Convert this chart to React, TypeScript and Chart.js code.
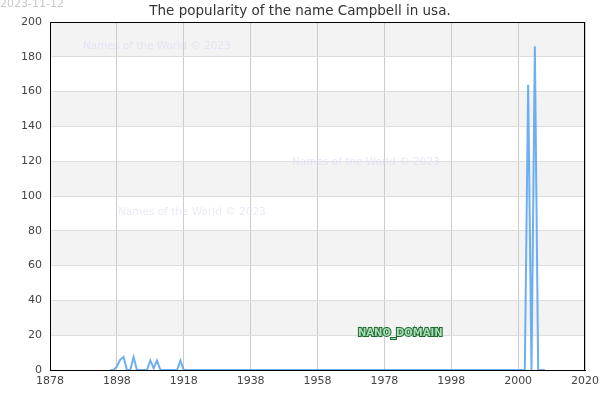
import React, { useEffect, useRef } from "react";
import { Chart, registerables, LinearScale } from "chart.js";

// ---- data ----
const years: number[] = [1896, 1897, 1898, 1899, 1900, 1901, 1902, 1903, 1904, 1907, 1908, 1909, 1910, 1911, 1916, 1917, 1918, 1998, 2000, 2002, 2003, 2004, 2005, 2006, 2008];
const counts: number[] = [0, 0, 2, 6, 7.5, 0, 0, 7.5, 0, 0, 5.5, 1, 5.5, 0, 0, 5.5, 0, 0, 0, 0, 164, 0, 186, 0, 0];
const xTickValues: number[] = [1878, 1898, 1918, 1938, 1958, 1978, 1998, 2000, 2020];
const xTickLabels: string[] = ["1878", "1898", "1918", "1938", "1958", "1978", "1998", "2000", "2020"];
const yTickValues: number[] = [0, 20, 40, 60, 80, 100, 120, 140, 160, 180, 200];

const titleText = "The popularity of the name Campbell in usa.";
const dateText = "2023-11-12";
const watermarkText = "Names of the World © 2023";
const badgeText = "NANO_DOMAIN";

// Axis whose ticks are evenly spaced regardless of their values
class EvenTickScale extends (LinearScale as any) {
  static id = "eventick";
  static defaults = {};
  buildTicks() {
    return xTickValues.map((value) => ({ value }));
  }
  toIndex(v: number): number {
    const t = xTickValues;
    if (v <= t[0]) return 0;
    for (let i = 0; i < t.length - 1; i++) {
      if (v >= t[i] && v <= t[i + 1]) return i + (v - t[i]) / (t[i + 1] - t[i]);
    }
    return t.length - 1;
  }
  getPixelForValue(value: number) {
    return (this as any).getPixelForDecimal(this.toIndex(value) / (xTickValues.length - 1));
  }
}

Chart.register(...registerables, EvenTickScale as any);

const FONT = "'DejaVu Sans', sans-serif";

const decorPlugin = {
  id: "decor",
  beforeDraw(chart: any) {
    const { ctx, chartArea: a, scales } = chart;
    const y = scales.y;
    ctx.save();
    ctx.fillStyle = "#f3f3f3";
    for (let i = 0; i < yTickValues.length - 1; i++) {
      if (i % 2 === 1) {
        const top = y.getPixelForValue(yTickValues[i + 1]);
        const bot = y.getPixelForValue(yTickValues[i]);
        ctx.fillRect(a.left, top, a.right - a.left, bot - top);
      }
    }
    ctx.restore();
  },
  afterDraw(chart: any) {
    const { ctx, chartArea: a } = chart;
    ctx.save();
    // frame
    ctx.strokeStyle = "#000";
    ctx.lineWidth = 1;
    ctx.strokeRect(a.left + 0.5, a.top + 0.5, a.right - a.left - 1, a.bottom - a.top);
    // date
    ctx.font = `11px ${FONT}`;
    ctx.fillStyle = "#c8c8c8";
    ctx.textAlign = "left";
    ctx.textBaseline = "middle";
    ctx.fillText(dateText, 0, 4);
    // title
    ctx.font = `13.5px ${FONT}`;
    ctx.fillStyle = "#333";
    ctx.textAlign = "center";
    ctx.fillText(titleText, 300, 11);
    // watermarks
    ctx.font = `10.5px ${FONT}`;
    ctx.fillStyle = "rgba(215,215,245,0.55)";
    ctx.textAlign = "left";
    ctx.fillText(watermarkText, 83, 46);
    ctx.fillText(watermarkText, 292, 162);
    ctx.fillText(watermarkText, 118, 212);
    // badge
    ctx.font = `bold 10px ${FONT}`;
    ctx.textAlign = "left";
    ctx.lineWidth = 2;
    ctx.strokeStyle = "#1f6a33";
    ctx.strokeText(badgeText, 358, 333);
    ctx.fillStyle = "#a8dcb2";
    ctx.fillText(badgeText, 358, 333);
    ctx.restore();
  },
};

export default function App() {
  const ref = useRef<HTMLCanvasElement | null>(null);
  useEffect(() => {
    if (!ref.current) return;
    const chart = new Chart(ref.current, {
      type: "line",
      data: {
        datasets: [
          {
            data: years.map((yr, i) => ({ x: yr, y: counts[i] })),
            borderColor: "rgba(85,160,240,0.85)",
            borderWidth: 2,
            pointRadius: 0,
            tension: 0,
            fill: false,
          },
        ],
      },
      options: {
        animation: false,
        responsive: false,
        layout: { padding: { top: 22, right: 15, left: 0, bottom: 0 } },
        plugins: { legend: { display: false }, tooltip: { enabled: false }, title: { display: false } },
        scales: {
          x: {
            type: "eventick" as any,
            min: 1878,
            max: 2020,
            grid: { color: "#cccccc", drawTicks: false },
            border: { display: true, color: "#000" },
            ticks: {
              padding: 5,
              color: "#444",
              font: { family: FONT, size: 11 },
              maxRotation: 0,
              autoSkip: false,
              callback: (_v: any, i: number) => xTickLabels[i],
            },
            afterFit: (s: any) => { s.height = 30; s.paddingRight = 0; s.paddingLeft = 0; },
          },
          y: {
            min: 0,
            max: 200,
            grid: { color: "#dddddd", drawTicks: false },
            border: { display: true, color: "#000" },
            ticks: {
              stepSize: 20,
              padding: 8,
              color: "#444",
              font: { family: FONT, size: 11 },
            },
            afterFit: (s: any) => { s.width = 50; },
          },
        },
      },
      plugins: [decorPlugin],
    } as any);
    return () => chart.destroy();
  }, []);
  return (
    <div style={{ position: "absolute", left: 0, top: 0, width: 600, height: 400 }}>
      <canvas ref={ref} width={600} height={400} style={{ width: 600, height: 400 }} />
    </div>
  );
}
